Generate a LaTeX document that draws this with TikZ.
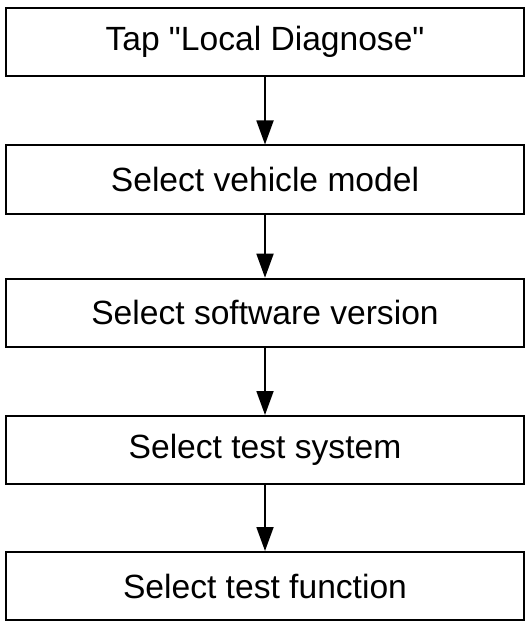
\documentclass[tikz,border=0pt]{standalone}
\usepackage{fontspec}
\defaultfontfeatures{}
\setmainfont[Ligatures=TeXOff]{Liberation Sans}
\usetikzlibrary{arrows.meta}
\begin{document}
\begin{tikzpicture}[x=1pt,y=-1pt,
  stepbox/.style={draw=black, line width=2pt, minimum width=518pt, minimum height=68pt, inner sep=0pt,
    font=\fontsize{33.6}{40}\selectfont, text=black},
  flow/.style={line width=1.8pt, -{Triangle[length=24pt,width=17pt]}}]
\useasboundingbox (0,0) rectangle (531,628);
\node[stepbox] (s1) at (265,42.3) {Tap "Local Diagnose"};
\node[stepbox] (s2) at (265,179.5) {Select vehicle model};
\node[stepbox] (s3) at (265,312.7) {Select software version};
\node[stepbox] (s4) at (265,450) {Select test system};
\node[stepbox] (s5) at (265,586) {Select test function};
\draw[flow] (s1) -- (s2);
\draw[flow] (s2) -- (s3);
\draw[flow] (s3) -- (s4);
\draw[flow] (s4) -- (s5);
\end{tikzpicture}
\end{document}
